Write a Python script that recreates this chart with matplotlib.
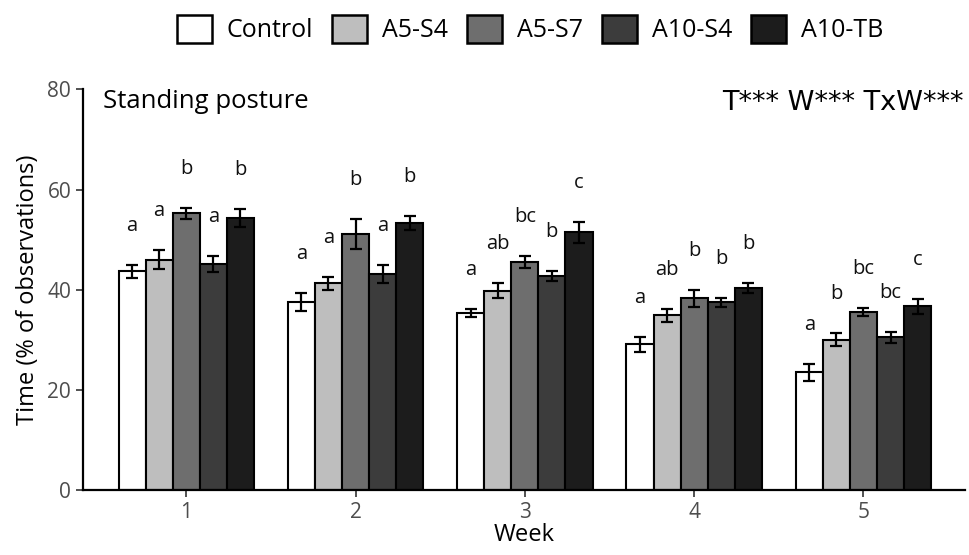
import matplotlib
matplotlib.use("Agg")
import matplotlib.pyplot as plt
from matplotlib.patches import Patch
import numpy as np

plt.rcParams['font.family'] = ['Open Sans', 'DejaVu Sans']

weeks = [1, 2, 3, 4, 5]
groups = ["Control", "A5-S4", "A5-S7", "A10-S4", "A10-TB"]
colors = ["#ffffff", "#bebebe", "#6e6e6e", "#3c3c3c", "#1c1c1c"]

means = {
    "Control": [43.7, 37.5, 35.3, 29.1, 23.5],
    "A5-S4":   [46.0, 41.3, 39.8, 34.9, 30.0],
    "A5-S7":   [55.3, 51.1, 45.5, 38.3, 35.5],
    "A10-S4":  [45.1, 43.1, 42.7, 37.5, 30.5],
    "A10-TB":  [54.3, 53.3, 51.5, 40.3, 36.7],
}
errors = {
    "Control": [1.3, 1.8, 0.8, 1.5, 1.7],
    "A5-S4":   [1.9, 1.3, 1.5, 1.3, 1.3],
    "A5-S7":   [1.1, 3.0, 1.2, 1.7, 0.8],
    "A10-S4":  [1.6, 1.8, 1.0, 0.9, 1.1],
    "A10-TB":  [1.8, 1.4, 2.1, 1.0, 1.5],
}
letters = {
    "Control": ["a", "a", "a", "a", "a"],
    "A5-S4":   ["a", "a", "ab", "ab", "b"],
    "A5-S7":   ["b", "b", "bc", "b", "bc"],
    "A10-S4":  ["a", "a", "b", "b", "bc"],
    "A10-TB":  ["b", "b", "c", "b", "c"],
}
panel_title = "Standing posture"
stats_text = "T*** W*** TxW***"

fig = plt.figure(figsize=(9.69, 5.55), dpi=100)
ax = fig.add_axes([83/969, 1-490/555, (965-83)/969, (490-89.5)/555])

width = 0.16
x = np.array(weeks, dtype=float)
for i, g in enumerate(groups):
    pos = x + (i - 2) * width
    ax.bar(pos, means[g], width=width, color=colors[i], edgecolor="black",
           linewidth=1.5, zorder=2)
    ax.errorbar(pos, means[g], yerr=errors[g], fmt="none", ecolor="black",
                elinewidth=1.6, capsize=4.5, capthick=1.6, zorder=3)
    for p, m, e, l in zip(pos, means[g], errors[g], letters[g]):
        ax.text(p, m + e + 6.8, l, ha="center", va="baseline", fontsize=14.5,
                color="#111111")

ax.set_xlim(0.39, 5.6)
ax.set_ylim(0, 80)
ax.set_xticks(weeks)
ax.set_xticklabels([str(w) for w in weeks])
ax.set_yticks([0, 20, 40, 60, 80])
for s in ["top", "right"]:
    ax.spines[s].set_visible(False)
for s in ["left", "bottom"]:
    ax.spines[s].set_linewidth(1.6)
    ax.spines[s].set_color("black")
ax.tick_params(axis="both", labelsize=15, labelcolor="#4d4d4d", color="#333333",
               length=5, width=1.2)
ax.set_xlabel("Week", fontsize=17, labelpad=0)
ax.set_ylabel("Time (% of observations)", fontsize=17, labelpad=5)

ax.text(0.023, 1.0, panel_title, transform=ax.transAxes, ha="left", va="top",
        fontsize=18.5)
ax.text(0.999, 1.0, stats_text, transform=ax.transAxes, ha="right", va="top",
        fontsize=19.5, family=["DejaVu Sans"])

handles = [Patch(facecolor=c, edgecolor="black", linewidth=1.8) for c in colors]
fig.legend(handles, groups, loc="upper center", ncol=5,
           bbox_to_anchor=(530/969, 1.0), frameon=False, fontsize=18,
           handlelength=1.4, handleheight=1.35, columnspacing=0.75,
           handletextpad=0.6, borderaxespad=0.2)

fig.savefig("out.png", dpi=100)
